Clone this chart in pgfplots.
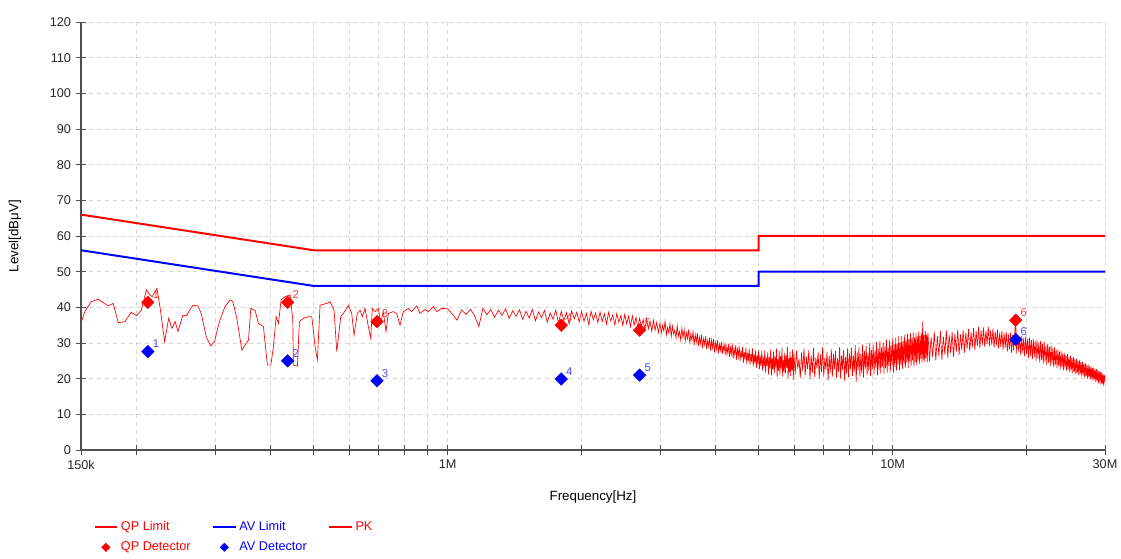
\documentclass[border=0pt]{standalone}
\usepackage{pgfplots}
\pgfplotsset{compat=1.18}
\usepackage{fontspec}
\setmainfont{Liberation Sans}
\definecolor{qpred}{RGB}{255,0,0}
\definecolor{avblue}{RGB}{0,0,255}
\definecolor{gridgray}{RGB}{215,215,215}
\definecolor{axgray}{RGB}{80,80,80}
\begin{document}
\begin{tikzpicture}
\useasboundingbox (-60.75pt,-81.75pt) rectangle (780pt,337.5pt);
\begin{axis}[
  width=768pt, height=321pt, scale only axis,
  at={(0,0)}, anchor=south west,
  xmode=log,
  xmin=0.15, xmax=30, ymin=0, ymax=120,
  enlargelimits=false,
  axis lines=left,
  axis line style={-, draw=axgray, line width=0.8pt},
  xtick={0.15,1,10,30},
  xticklabels={150k,1M,10M,30M},
  minor xtick={0.2,0.3,0.4,0.5,0.6,0.7,0.8,0.9,2,3,4,5,6,7,8,9,20},
  ytick={0,10,...,120},
  tick align=center,
  major tick length=8pt, minor tick length=8pt,
  tick style={draw=axgray, line width=0.6pt},
  grid=both,
  major grid style={draw=gridgray, dashed, line width=0.5pt},
  minor grid style={draw=gridgray, dashed, line width=0.5pt},
  /pgf/number format/assume math mode=true,
  tick label style={font=\fontsize{9.5}{11}\selectfont, text=black!85},
  xlabel={Frequency[Hz]},
  ylabel={Level[dBμV]},
  label style={font=\fontsize{9.5}{11}\selectfont},
  every axis x label/.style={at={(axis description cs:0.5,-0.1098)}, anchor=center},
  every axis y label/.style={at={(axis description cs:-0.0645,0.5)}, anchor=center, rotate=90},
  legend columns=3,
  legend style={draw=none, fill=none, at={(axis description cs:0.012,-0.16)}, anchor=north west,
    font=\fontsize{9.5}{11}\selectfont, inner sep=0pt, row sep=3pt,
    /tikz/every even column/.append style={column sep=14pt}},
  legend cell align=left,
  clip=true,
]
% QP limit
\addplot[qpred, line width=1.5pt] coordinates {(0.15,66) (0.5,56) (5,56) (5,60) (30,60)};
\addlegendentry{\textcolor{qpred}{QP Limit}}
% AV limit
\addplot[avblue, line width=1.5pt] coordinates {(0.15,56) (0.5,46) (5,46) (5,50) (30,50)};
\addlegendentry{\textcolor{avblue}{AV Limit}}
% PK trace
\addplot[qpred, line width=0.5pt, legend image post style={line width=1.5pt}] coordinates {
(0.1500,35.5) (0.1529,38.8) (0.1582,41.6) (0.1638,42.3) (0.1726,40.4) (0.1772,41.1)
(0.1819,35.7) (0.1882,36.0) (0.1946,38.6) (0.1998,37.7) (0.2050,39.2) (0.2104,44.9)
(0.2140,43.5) (0.2169,43.0) (0.2222,45.3) (0.2260,39.7) (0.2312,30.4) (0.2361,36.9)
(0.2401,34.1) (0.2442,36.0) (0.2477,33.2) (0.2541,37.8) (0.2585,37.6) (0.2677,40.6)
(0.2747,40.4) (0.2794,38.3) (0.2867,31.8) (0.2933,29.2) (0.2994,30.4) (0.3035,33.6)
(0.3078,36.4) (0.3160,40.2) (0.3245,42.1) (0.3291,41.6) (0.3360,36.9) (0.3448,28.0)
(0.3507,29.4) (0.3568,30.8) (0.3612,39.7) (0.3693,39.1) (0.3757,35.5) (0.3855,34.6)
(0.3936,23.8) (0.4006,23.8) (0.4060,29.0) (0.4117,37.4) (0.4167,35.5) (0.4225,42.1)
(0.4313,43.0) (0.4426,43.5) (0.4488,36.4) (0.4502,23.8) (0.4596,23.5) (0.4644,36.0)
(0.4741,36.9) (0.4865,37.4) (0.4951,37.4) (0.5036,29.0) (0.5096,25.2) (0.5168,40.6)
(0.5350,41.1) (0.5443,41.6) (0.5556,39.2) (0.5634,27.6) (0.5752,37.4) (0.5830,38.3)
(0.5932,39.7) (0.5982,40.6) (0.6088,38.3) (0.6161,32.2) (0.6267,38.3) (0.6356,39.2)
(0.6431,37.4) (0.6522,39.7) (0.6634,34.6) (0.6717,31.3) (0.6773,39.7) (0.6868,38.8)
(0.6986,39.7) (0.7073,35.5) (0.7168,38.8) (0.7270,33.2) (0.7357,38.3) (0.7549,38.8)
(0.7683,38.3) (0.7816,35.0) (0.7950,38.8) (0.8158,39.7) (0.8302,38.8) (0.8520,40.4)
(0.8667,38.3) (0.8894,39.4) (0.9047,38.8) (0.9284,40.2) (0.9449,38.8) (0.9698,39.7)
(1.000,39.6) (1.025,38.1) (1.050,36.4) (1.075,39.3) (1.100,38.0) (1.125,39.5)
(1.150,37.6) (1.175,34.6) (1.200,39.7) (1.225,37.9) (1.250,39.4) (1.275,37.2)
(1.300,39.2) (1.325,37.8) (1.350,39.6) (1.375,36.9) (1.400,39.0) (1.425,37.5)
(1.450,39.3) (1.475,36.6) (1.500,38.9) (1.525,37.0) (1.550,39.4) (1.575,36.2)
(1.600,38.7) (1.625,37.1) (1.650,39.1) (1.675,35.8) (1.700,38.4) (1.725,36.7)
(1.750,39.2) (1.775,35.6) (1.800,38.9) (1.825,36.3) (1.850,38.5) (1.875,35.4)
(1.900,39.0) (1.925,36.8) (1.950,38.6) (1.975,35.9) (2.000,38.8) (2.025,36.1)
(2.050,38.3) (2.075,35.2) (2.100,38.9) (2.125,36.5) (2.150,38.4) (2.175,35.7)
(2.200,38.7) (2.225,36.0) (2.250,38.2) (2.275,35.3) (2.300,38.6) (2.325,36.2)
(2.350,37.9) (2.375,35.1) (2.400,38.3) (2.425,35.8) (2.450,37.7) (2.475,34.9)
(2.500,38.0) (2.525,35.4) (2.550,37.5) (2.575,34.6) (2.600,37.6) (2.625,35.0)
(2.650,37.2) (2.675,34.2) (2.700,36.9) (2.725,34.5) (2.750,36.6) (2.775,33.8)
(2.800,36.8) (2.825,34.0) (2.850,36.1) (2.875,33.3) (2.900,36.4) (2.925,33.6)
(2.950,35.8) (2.975,32.9)
(3.00,35.6) (3.02,32.8) (3.04,34.9) (3.06,33.4) (3.08,36.1) (3.10,32.2) (3.12,34.3)
(3.14,32.9) (3.16,35.4) (3.18,31.8) (3.20,34.7) (3.22,32.5) (3.24,33.6) (3.26,31.4)
(3.28,34.8) (3.30,31.9) (3.32,33.2) (3.34,30.8) (3.36,34.1) (3.38,31.5) (3.40,33.7)
(3.42,30.6) (3.44,32.9) (3.46,31.2) (3.48,33.8) (3.50,29.9) (3.52,32.6) (3.54,30.7)
(3.56,33.1) (3.58,29.4) (3.60,32.3) (3.62,30.2) (3.64,32.8) (3.66,29.1) (3.68,31.6)
(3.70,29.8) (3.72,32.4) (3.74,28.6) (3.76,31.2) (3.78,29.5) (3.80,31.9) (3.82,28.2)
(3.84,30.7) (3.86,29.0) (3.88,31.5) (3.90,27.8) (3.92,30.9) (3.94,28.6) (3.96,31.1)
(3.98,27.4) (4.00,30.2) (4.02,28.3) (4.04,30.8) (4.06,27.1) (4.08,29.6) (4.10,27.9)
(4.12,30.4) (4.14,26.8) (4.16,29.3) (4.18,27.6) (4.20,30.1) (4.22,26.5) (4.24,29.0)
(4.26,27.2) (4.28,29.8) (4.30,26.1) (4.32,28.7) (4.34,26.9) (4.36,29.9) (4.38,25.7)
(4.40,28.4) (4.42,26.6) (4.44,29.4) (4.46,25.3) (4.48,28.2) (4.50,26.2) (4.52,29.1)
(4.54,24.9) (4.56,27.8) (4.58,25.8) (4.60,28.9) (4.62,24.5) (4.64,27.5) (4.66,25.4)
(4.68,28.6) (4.70,24.1) (4.72,27.3) (4.74,25.0) (4.76,28.3) (4.78,23.8) (4.80,27.0)
(4.82,24.7) (4.84,28.5) (4.86,23.4) (4.88,26.8) (4.90,24.3) (4.92,27.9) (4.94,23.0)
(4.96,26.6) (4.98,24.0) (5.00,28.1) (5.02,22.7) (5.04,26.3) (5.06,23.6) (5.08,27.7)
(5.10,22.3) (5.12,26.1) (5.14,23.2) (5.16,27.9) (5.18,21.8) (5.20,25.9) (5.22,23.5)
(5.24,27.4) (5.26,21.2) (5.28,26.0) (5.30,22.9) (5.32,28.2) (5.34,20.9) (5.36,25.7)
(5.38,22.6) (5.40,27.6) (5.42,21.5) (5.44,26.2) (5.46,23.1) (5.48,28.4) (5.50,20.4)
(5.52,25.5) (5.54,22.2) (5.56,27.8) (5.58,21.1) (5.60,26.4) (5.62,22.8) (5.64,28.7)
(5.66,20.6) (5.68,25.3) (5.70,22.0) (5.72,27.2) (5.74,21.4) (5.76,26.6) (5.78,23.0)
(5.80,28.9) (5.82,20.1) (5.84,25.8) (5.86,21.7) (5.88,27.5) (5.90,20.8) (5.92,26.0)
(5.94,22.4) (5.96,28.3) (5.98,19.6)
(6.00,26.9) (6.04,21.3) (6.08,27.7) (6.12,22.8) (6.16,25.6) (6.20,20.2) (6.24,27.3)
(6.28,22.1) (6.32,28.4) (6.36,20.9) (6.40,26.2) (6.44,22.7) (6.48,27.9) (6.52,19.8)
(6.56,26.5) (6.60,21.6) (6.64,28.6) (6.68,20.5) (6.72,25.9) (6.76,22.9) (6.80,27.4)
(6.84,20.1) (6.88,26.8) (6.92,21.9) (6.96,28.8) (7.00,20.7) (7.04,25.8) (7.08,22.4)
(7.12,27.6) (7.16,19.5) (7.20,26.3) (7.24,21.7) (7.28,28.2) (7.32,20.6) (7.36,26.9)
(7.40,22.6) (7.44,27.8) (7.48,20.3) (7.52,25.7) (7.56,21.8) (7.60,28.9) (7.64,20.0)
(7.68,26.6) (7.72,22.5) (7.76,28.1) (7.80,19.4) (7.84,26.2) (7.88,21.4) (7.92,28.5)
(7.96,20.4) (8.00,27.0) (8.04,22.7) (8.08,28.7) (8.12,20.8) (8.16,26.5) (8.20,21.9)
(8.24,29.4) (8.28,19.2) (8.32,27.4) (8.36,22.3) (8.40,28.8) (8.44,20.6) (8.48,26.9)
(8.52,21.5) (8.56,29.6) (8.60,20.3) (8.64,27.7) (8.68,22.8) (8.72,29.1) (8.76,21.0)
(8.80,27.3) (8.84,22.1) (8.88,30.0) (8.92,20.7) (8.96,28.1) (9.00,22.6) (9.04,29.5)
(9.08,21.2) (9.12,27.9) (9.16,23.0) (9.20,30.3) (9.24,20.9) (9.28,28.4) (9.32,22.4)
(9.36,30.6) (9.40,21.5) (9.44,28.8) (9.48,23.3) (9.52,30.1) (9.56,21.4) (9.60,29.0)
(9.64,22.9) (9.68,31.0) (9.72,21.8) (9.76,28.7) (9.80,23.5) (9.84,30.7) (9.88,22.0)
(9.92,29.4) (9.96,23.8) (10.00,31.3) (10.04,21.7) (10.08,29.6) (10.12,23.2)
(10.16,31.5) (10.20,22.3) (10.24,29.8) (10.28,24.0) (10.32,31.9) (10.36,22.5)
(10.40,30.2) (10.44,23.7) (10.48,32.0) (10.52,22.8) (10.56,30.5) (10.60,24.3)
(10.64,32.3) (10.68,23.1) (10.72,30.8) (10.76,24.6) (10.80,32.5) (10.84,23.0)
(10.88,31.1) (10.92,24.9) (10.96,32.8) (11.00,23.6) (11.04,31.2) (11.08,25.1)
(11.12,33.0) (11.16,23.4) (11.20,31.6) (11.24,24.7) (11.28,32.7) (11.32,23.9)
(11.36,31.8) (11.40,25.4) (11.44,33.2) (11.48,24.1) (11.52,31.9) (11.56,25.6)
(11.60,32.9) (11.64,24.5) (11.68,36.0) (11.72,25.2) (11.76,32.2) (11.80,24.8)
(11.84,33.4) (11.88,25.7) (11.92,32.5) (11.96,24.6)
(12.0,32.8) (12.1,24.9) (12.2,31.6) (12.3,26.0) (12.4,33.2) (12.5,25.1) (12.6,32.0)
(12.7,26.4) (12.8,33.4) (12.9,25.3) (13.0,31.8) (13.1,26.8) (13.2,33.6) (13.3,25.9)
(13.4,32.3) (13.5,27.1) (13.6,33.1) (13.7,26.2) (13.8,32.6) (13.9,27.5) (14.0,33.7)
(14.1,26.7) (14.2,32.4) (14.3,28.0) (14.4,33.5) (14.5,27.3) (14.6,32.8) (14.7,28.4)
(14.8,33.9) (14.9,27.7) (15.0,33.0) (15.1,28.8) (15.2,34.2) (15.3,28.1) (15.4,33.3)
(15.5,29.2) (15.6,34.5) (15.7,28.6) (15.8,33.6) (15.9,29.5) (16.0,34.3) (16.1,28.9)
(16.2,33.4) (16.3,29.7) (16.4,34.6) (16.5,29.1) (16.6,33.5) (16.7,29.4) (16.8,34.0)
(16.9,28.7) (17.0,33.2) (17.1,29.3) (17.2,33.8) (17.3,28.4) (17.4,32.9) (17.5,28.9)
(17.6,33.4) (17.7,28.0) (17.8,32.7) (17.9,28.6) (18.0,33.1) (18.1,27.6) (18.2,32.4)
(18.3,28.2) (18.4,32.9) (18.5,27.3) (18.6,32.2) (18.7,27.9) (18.8,32.6) (18.9,36.0)
(19.0,27.0) (19.1,32.3) (19.2,27.6) (19.3,31.7) (19.4,26.6) (19.5,32.0) (19.6,27.2)
(19.7,31.4) (19.8,26.2) (19.9,31.8) (20.0,26.8) (20.1,31.1) (20.2,25.8) (20.3,31.5)
(20.4,26.4) (20.5,30.8) (20.6,25.4) (20.7,31.2) (20.8,26.0) (20.9,30.5) (21.0,25.0)
(21.1,30.9) (21.2,25.6) (21.3,30.2) (21.4,24.6) (21.5,30.6) (21.6,25.2) (21.7,29.8)
(21.8,24.2) (21.9,30.3) (22.0,24.8) (22.1,29.4) (22.2,23.9) (22.3,29.8) (22.4,24.5)
(22.5,29.0) (22.6,23.6) (22.7,29.3) (22.8,24.1) (22.9,28.5) (23.0,23.3) (23.1,28.8)
(23.2,23.8) (23.3,28.0) (23.4,23.0) (23.5,28.2) (23.6,23.5) (23.7,27.5) (23.8,22.7)
(23.9,27.8) (24.0,23.2) (24.1,27.0) (24.2,22.4) (24.3,27.3) (24.4,22.9) (24.5,26.6)
(24.6,22.1) (24.7,26.9) (24.8,22.6) (24.9,26.2) (25.0,21.8) (25.1,26.4) (25.2,22.3)
(25.3,25.8) (25.4,21.5) (25.5,26.0) (25.6,21.9) (25.7,25.4) (25.8,21.2) (25.9,25.6)
(26.0,21.6) (26.1,25.0) (26.2,20.9) (26.3,25.1) (26.4,21.3) (26.5,24.6) (26.6,20.6)
(26.7,24.7) (26.8,21.0) (26.9,24.2) (27.0,20.3) (27.1,24.3) (27.2,20.7) (27.3,23.8)
(27.4,20.0) (27.5,23.9) (27.6,20.4) (27.7,23.4) (27.8,19.7) (27.9,23.5) (28.0,20.1)
(28.1,23.0) (28.2,19.4) (28.3,23.1) (28.4,19.8) (28.5,22.6) (28.6,19.1) (28.7,22.7)
(28.8,19.4) (28.9,22.2) (29.0,18.7) (29.1,22.3) (29.2,19.0) (29.3,21.8) (29.4,18.3)
(29.5,21.8) (29.6,18.6) (29.7,21.3) (29.8,17.9) (29.9,21.0) (30.0,19.2)
};
\addlegendentry{\textcolor{qpred}{PK}}
% QP detector
\addplot[only marks, mark=square*, mark size=3.3pt, mark options={rotate=45}, color=qpred,
  point meta=explicit symbolic,
  nodes near coords,
  every node near coord/.append style={anchor=south west, text=qpred!75!white,
    font=\fontsize{8.5}{9}\selectfont, inner sep=0.5pt, xshift=3pt, yshift=2pt},
  legend image post style={mark size=2.2pt}]
  coordinates {(0.212,41.4)[1] (0.437,41.4)[2] (0.694,36.0)[3] (1.80,35.0)[4] (2.70,33.6)[5] (18.9,36.4)[6]};
\addlegendentry{\textcolor{qpred}{QP Detector}}
% AV detector
\addplot[only marks, mark=square*, mark size=3.3pt, mark options={rotate=45}, color=avblue,
  point meta=explicit symbolic,
  nodes near coords,
  every node near coord/.append style={anchor=south west, text=avblue!70!white,
    font=\fontsize{8.5}{9}\selectfont, inner sep=0.5pt, xshift=3pt, yshift=2pt},
  legend image post style={mark size=2.2pt}]
  coordinates {(0.212,27.6)[1] (0.437,25.0)[2] (0.694,19.4)[3] (1.80,19.9)[4] (2.70,21.0)[5] (18.9,31.0)[6]};
\addlegendentry{\textcolor{avblue}{AV Detector}}
\node[anchor=base, text=qpred, font=\fontsize{9.5}{11}\selectfont]
  at (rel axis cs:0.447,1) [yshift=4pt] {(ENV216\_L1+ENV216\_L1)};
\end{axis}
\end{tikzpicture}
\end{document}
